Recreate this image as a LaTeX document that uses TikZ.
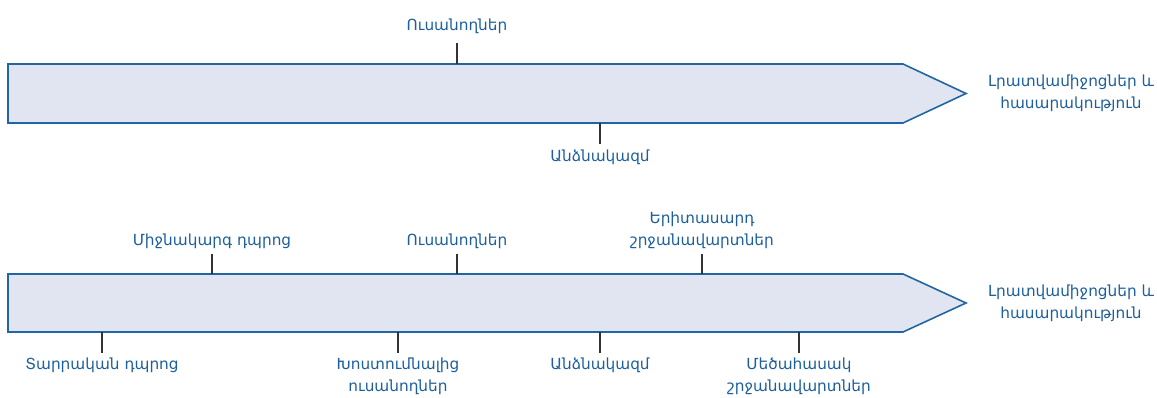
\documentclass[tikz,border=0pt]{standalone}
\usepackage{fontspec}
\setmainfont{DejaVu Sans}
\definecolor{arrowfill}{HTML}{E0E5F1}
\definecolor{arrowline}{HTML}{2166A3}
\definecolor{labelblue}{HTML}{1C5F9C}
\definecolor{tickgray}{HTML}{333333}
\tikzset{
  bigarrow/.style={draw=arrowline, fill=arrowfill, line width=1.6pt, line join=miter},
  ticksty/.style={draw=tickgray, line width=1.6pt},
  lbl/.style={text=labelblue, font=\fontsize{15.3}{22}\selectfont, align=center, inner sep=0pt},
}
\begin{document}
\begin{tikzpicture}[x=1pt,y=-1pt]
\useasboundingbox (0,0) rectangle (1157,398);
% top arrow
\path[bigarrow] (8,64) -- (903,64) -- (966,93.5) -- (903,123) -- (8,123) -- cycle;
% bottom arrow
\path[bigarrow] (8,274) -- (903,274) -- (966,303) -- (903,332) -- (8,332) -- cycle;

% top labels
\node[lbl] (a1) at (457,26) {Ուսանողներ};
\node[lbl] (a2) at (600,157) {Անձնակազմ};
\node[lbl] (a3) at (1071,93) {Լրատվամիջոցներ և\\հասարակություն};

\coordinate (a1t) at (457,43); \coordinate (a1b) at (457,64);
\coordinate (a2t) at (600,123); \coordinate (a2b) at (600,144);
\draw[ticksty] (a1t) -- (a1b);
\draw[ticksty] (a2t) -- (a2b);

% bottom labels
\node[lbl] (b1) at (212,241) {Միջնակարգ դպրոց};
\node[lbl] (b2) at (457,241) {Ուսանողներ};
\node[lbl] (b3) at (702,230) {Երիտասարդ\\շրջանավարտներ};
\node[lbl] (b4) at (102,365) {Տարրական դպրոց};
\node[lbl] (b5) at (398,376) {Խոստումնալից\\ուսանողներ};
\node[lbl] (b6) at (600,365) {Անձնակազմ};
\node[lbl] (b7) at (799,376) {Մեծահասակ\\շրջանավարտներ};
\node[lbl] (b8) at (1071,303) {Լրատվամիջոցներ և\\հասարակություն};

\coordinate (b1t) at (212,254); \coordinate (b1b) at (212,274);
\coordinate (b2t) at (457,254); \coordinate (b2b) at (457,274);
\coordinate (b3t) at (702,254); \coordinate (b3b) at (702,274);
\coordinate (b4t) at (102,332); \coordinate (b4b) at (102,353);
\coordinate (b5t) at (398,332); \coordinate (b5b) at (398,353);
\coordinate (b6t) at (600,332); \coordinate (b6b) at (600,353);
\coordinate (b7t) at (799,332); \coordinate (b7b) at (799,353);
\foreach \n in {b1,b2,b3,b4,b5,b6,b7} \draw[ticksty] (\n t) -- (\n b);
\end{tikzpicture}
\end{document}
